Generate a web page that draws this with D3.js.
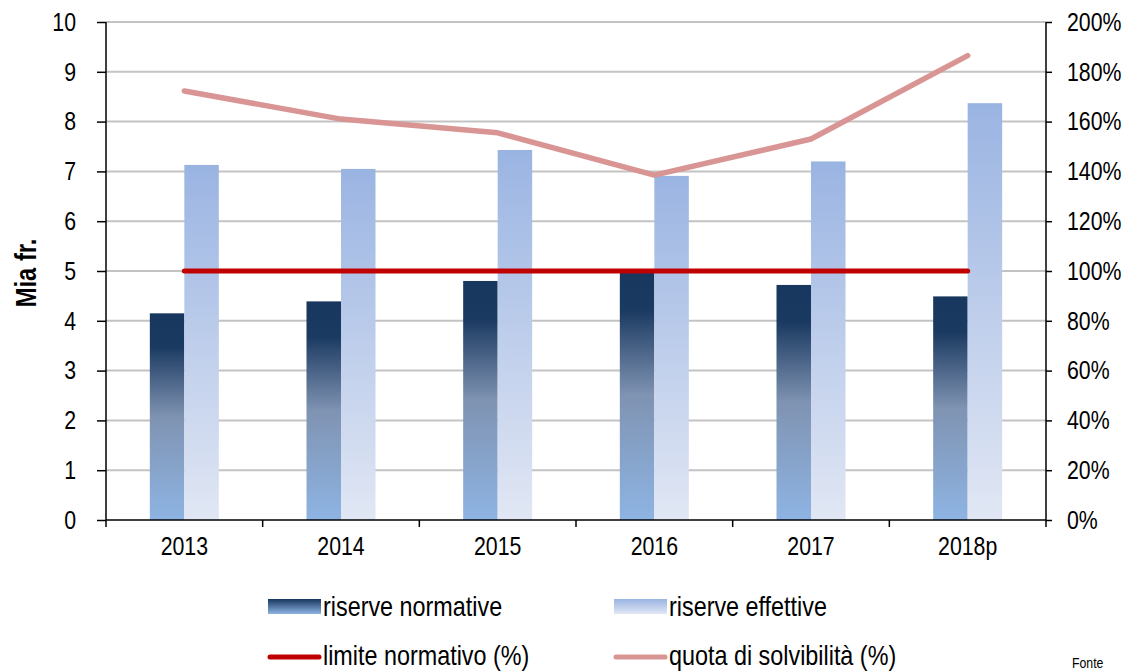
<!DOCTYPE html>
<html>
<head>
<meta charset="utf-8">
<script src="https://cdn.jsdelivr.net/npm/d3@7"></script>
<style>
    body { margin: 0; background: #fff; }
    svg text { font-family: "Liberation Sans", Arial, sans-serif; fill: #000; }
</style>
</head>
<body>
<svg id="chart" width="1126" height="672"></svg>
<script>
// Data
var years = ["2013", "2014", "2015", "2016", "2017", "2018p"];
var riserveNormative = [4.15, 4.39, 4.80, 5.02, 4.72, 4.49];
var riserveEffettive = [7.13, 7.05, 7.43, 6.91, 7.20, 8.37];
var limiteNormativo = [1.00, 1.00, 1.00, 1.00, 1.00, 1.00];
var quotaSolvibilita = [1.723, 1.61, 1.555, 1.385, 1.53, 1.865];
var leftTicks = [0, 1, 2, 3, 4, 5, 6, 7, 8, 9, 10];
var rightTicks = [0, 0.2, 0.4, 0.6, 0.8, 1.0, 1.2, 1.4, 1.6, 1.8, 2.0];

var svg = d3.select("#chart");

var margin = { left: 106, right: 1046, top: 22, bottom: 520 };
var barWidth = 34.5;
var narrowScale = 0.82;

// Squeeze texts horizontally (Arial Narrow look, no narrow face installed)
var narrow = function(sel) {
    sel.each(function() {
        var t = d3.select(this);
        var xv = +(t.attr("x") || 0);
        var tr = t.attr("transform") || "";
        t.attr("x", xv / narrowScale)
            .attr("transform", tr + " scale(" + narrowScale + ",1)");
    });
};

// Scales
var x = d3.scaleBand().domain(years).range([margin.left, margin.right]).padding(0);
var yLeft = d3.scaleLinear().domain([0, 10]).range([margin.bottom, margin.top]);
var yRight = d3.scaleLinear().domain([0, 2]).range([margin.bottom, margin.top]);
var center = function(d) { return x(d) + x.bandwidth() / 2; };

// Gradients
var defs = svg.append("defs");
var gNorm = defs.append("linearGradient").attr("id", "gradNorm")
    .attr("x1", 0).attr("y1", 0).attr("x2", 0).attr("y2", 1);
gNorm.append("stop").attr("offset", "0%").attr("stop-color", "#17375e");
gNorm.append("stop").attr("offset", "16%").attr("stop-color", "#1b3a61");
gNorm.append("stop").attr("offset", "50%").attr("stop-color", "#7f93b2");
gNorm.append("stop").attr("offset", "100%").attr("stop-color", "#8eb4e3");

var gEff = defs.append("linearGradient").attr("id", "gradEff")
    .attr("x1", 0).attr("y1", 0).attr("x2", 0).attr("y2", 1);
gEff.append("stop").attr("offset", "0%").attr("stop-color", "#9ab4e2");
gEff.append("stop").attr("offset", "100%").attr("stop-color", "#e1e7f4");

var gNormL = defs.append("linearGradient").attr("id", "gradNormL")
    .attr("x1", 0).attr("y1", 0).attr("x2", 0).attr("y2", 1);
gNormL.append("stop").attr("offset", "0%").attr("stop-color", "#17375e");
gNormL.append("stop").attr("offset", "100%").attr("stop-color", "#8eb4e3");
var gEffL = defs.append("linearGradient").attr("id", "gradEffL")
    .attr("x1", 0).attr("y1", 0).attr("x2", 0).attr("y2", 1);
gEffL.append("stop").attr("offset", "0%").attr("stop-color", "#9ab4e2");
gEffL.append("stop").attr("offset", "100%").attr("stop-color", "#e1e7f4");

// Grid lines
svg.append("g").selectAll("line")
    .data(leftTicks.slice(1))
    .enter().append("line")
    .attr("x1", margin.left).attr("x2", margin.right)
    .attr("y1", function(d) { return yLeft(d); })
    .attr("y2", function(d) { return yLeft(d); })
    .attr("stroke", "#c3c3c3")
    .attr("stroke-width", 2);

// Bars
svg.append("g").selectAll("rect")
    .data(years)
    .enter().append("rect")
    .attr("x", function(d) { return center(d) - barWidth; })
    .attr("y", function(d, i) { return yLeft(riserveNormative[i]); })
    .attr("width", barWidth)
    .attr("height", function(d, i) { return yLeft(0) - yLeft(riserveNormative[i]); })
    .attr("fill", "url(#gradNorm)");

svg.append("g").selectAll("rect")
    .data(years)
    .enter().append("rect")
    .attr("x", function(d) { return center(d); })
    .attr("y", function(d, i) { return yLeft(riserveEffettive[i]); })
    .attr("width", barWidth)
    .attr("height", function(d, i) { return yLeft(0) - yLeft(riserveEffettive[i]); })
    .attr("fill", "url(#gradEff)");

// Lines
var line = d3.line()
    .x(function(d, i) { return center(years[i]); })
    .y(function(d) { return yRight(d); });

svg.append("path")
    .datum(limiteNormativo)
    .attr("d", line)
    .attr("fill", "none")
    .attr("stroke", "#c00000")
    .attr("stroke-width", 5)
    .attr("stroke-linecap", "round");

svg.append("path")
    .datum(quotaSolvibilita)
    .attr("d", line)
    .attr("fill", "none")
    .attr("stroke", "#d99594")
    .attr("stroke-width", 5.5)
    .attr("stroke-linecap", "round")
    .attr("stroke-linejoin", "round");

// Axes
var leftAxis = d3.axisLeft(yLeft).tickValues(leftTicks).tickSize(9).tickPadding(21);
var gl = svg.append("g").attr("transform", "translate(" + margin.left + ",0)").call(leftAxis);

var rightAxis = d3.axisRight(yRight).tickValues(rightTicks).tickSize(6).tickPadding(15)
    .tickFormat(d3.format(".0%"));
var gr = svg.append("g").attr("transform", "translate(" + margin.right + ",0)").call(rightAxis);

var bottomAxis = d3.axisBottom(x).tickSize(0).tickPadding(17);
var gb = svg.append("g").attr("transform", "translate(0," + margin.bottom + ")").call(bottomAxis);

// category boundary ticks
var bounds = years.map(function(d) { return x(d); }).concat([margin.right]);
gb.selectAll("line.bound")
    .data(bounds)
    .enter().append("line")
    .attr("class", "bound")
    .attr("x1", function(d) { return d; }).attr("x2", function(d) { return d; })
    .attr("y1", 0).attr("y2", 7)
    .attr("stroke", "#000").attr("stroke-width", 1.5);

[gl, gr, gb].forEach(function(g) {
    g.select(".domain").attr("stroke", "#000").attr("stroke-width", 1.5);
    g.selectAll(".tick line").attr("stroke", "#000").attr("stroke-width", 1.5);
    g.selectAll("text")
        .style("font-family", "'Liberation Sans', Arial, sans-serif")
        .style("font-size", "26px")
        .attr("fill", "#000")
        .call(narrow);
});
// remove outer ticks from path ends
gl.select(".domain").attr("d", "M0," + margin.top + "V" + margin.bottom);
gr.select(".domain").attr("d", "M0," + margin.top + "V" + margin.bottom);
gb.select(".domain").attr("d", "M" + margin.left + ",0H" + margin.right);

// Y title
svg.append("text")
    .attr("transform", "translate(36,273) rotate(-90)")
    .attr("text-anchor", "middle")
    .style("font-size", "29px")
    .style("font-weight", "bold")
    .text("Mia fr.")
    .call(narrow);

// Legend
var legendRows = [
    { label: "riserve normative", type: "rect", fill: "url(#gradNormL)", x: 268, y: 606 },
    { label: "riserve effettive", type: "rect", fill: "url(#gradEffL)", x: 614, y: 606 },
    { label: "limite normativo (%)", type: "line", color: "#c00000", x: 268, y: 655 },
    { label: "quota di solvibilità (%)", type: "line", color: "#d99594", x: 614, y: 655 }
];

var legend = svg.append("g").selectAll("g")
    .data(legendRows)
    .enter().append("g")
    .attr("transform", function(d) { return "translate(" + d.x + "," + d.y + ")"; });

legend.each(function(d) {
    var g = d3.select(this);
    if(d.type == "rect") {
        g.append("rect").attr("x", 0).attr("y", -7).attr("width", 53).attr("height", 15).attr("fill", d.fill);
    }
    else {
        g.append("line").attr("x1", 2).attr("x2", 51).attr("y1", 2).attr("y2", 2)
            .attr("stroke", d.color).attr("stroke-width", 5).attr("stroke-linecap", "round");
    }
    g.append("text").attr("x", 55).attr("y", 10)
        .style("font-size", "28.5px")
        .text(d.label)
        .call(narrow);
});

// Source note
svg.append("text")
    .attr("x", 1072).attr("y", 668)
    .style("font-size", "15px")
    .text("Fonte")
    .call(narrow);
</script>
</body>
</html>
